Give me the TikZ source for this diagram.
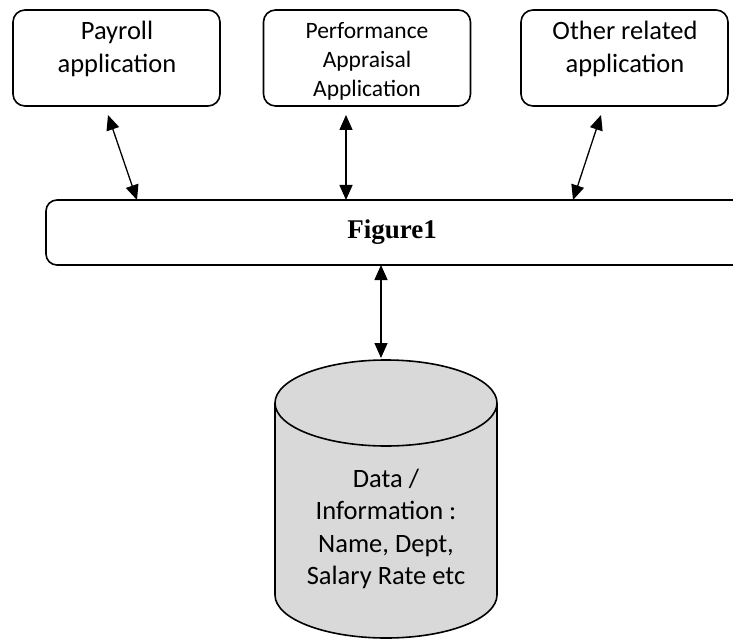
\documentclass[tikz,border=0pt]{standalone}
\usepackage{fontspec}
\setmainfont{Carlito}
\newfontfamily\timesfont{Liberation Serif}
\usetikzlibrary{arrows.meta}
\tikzset{
  appbox/.style={draw, line width=1.6pt, rounded corners=12pt, minimum width=207pt, minimum height=96pt, inner sep=0pt},
  barbox/.style={draw, line width=1.6pt, rounded corners=11pt, minimum width=714pt, minimum height=65pt, inner sep=0pt},
  lbl/.style={align=center, inner sep=0pt, font=\fontsize{26.5pt}{32.5pt}\selectfont},
  smalllbl/.style={align=center, inner sep=0pt, font=\fontsize{23.5pt}{29pt}\selectfont},
  link/.style={line width=1.3pt, {Triangle[length=15pt,width=13pt]}-{Triangle[length=15pt,width=13pt]}}
}
\begin{document}
\begin{tikzpicture}[x=1pt,y=1pt]
\useasboundingbox (0,0) rectangle (733,-639);
\clip (0,0) rectangle (733,-639);
% application boxes
\node[appbox] (pay) at (116.5,-58) {};
\node[appbox] (perf) at (367,-58) {};
\node[appbox] (other) at (624.5,-58) {};
\node[lbl] (paytxt) at (117,-49) {Payroll\\application};
\node[smalllbl] (perftxt) at (367,-61) {Performance\\Appraisal\\Application};
\node[lbl] (othertxt) at (625,-49) {Other related\\application};
% bar
\node[barbox] (bar) at (403,-232.5) {};
\node[inner sep=0pt, font=\timesfont\bfseries\fontsize{27pt}{32pt}\selectfont] (figtxt) at (392,-232) {Figure1};
% cylinder
\fill[black!15] (275,-403) -- (275,-595) arc[start angle=180,end angle=360,x radius=111pt,y radius=43pt] -- (497,-403) arc[start angle=0,end angle=180,x radius=111pt,y radius=43pt] -- cycle;
\draw[line width=1.6pt] (275,-403) -- (275,-595) arc[start angle=180,end angle=360,x radius=111pt,y radius=43pt] -- (497,-403) arc[start angle=0,end angle=180,x radius=111pt,y radius=43pt] -- cycle;
\draw[line width=1.6pt] (275,-403) arc[start angle=180,end angle=360,x radius=111pt,y radius=43pt];
\coordinate (dbtop) at (381,-358);
\node[lbl] (dbtxt) at (386,-529) {Data /\\Information :\\Name, Dept,\\Salary Rate etc};
% connector end points
\coordinate (a1t) at (108,-115);
\coordinate (a1b) at (137,-200);
\coordinate (a2t) at (346,-115);
\coordinate (a2b) at (346,-200);
\coordinate (a3t) at (601,-115);
\coordinate (a3b) at (573,-200);
\coordinate (a4t) at (381,-265);
\draw[link] (a1t) -- (a1b);
\draw[link] (a2t) -- (a2b);
\draw[link] (a3t) -- (a3b);
\draw[link] (a4t) -- (dbtop);
\end{tikzpicture}
\end{document}
